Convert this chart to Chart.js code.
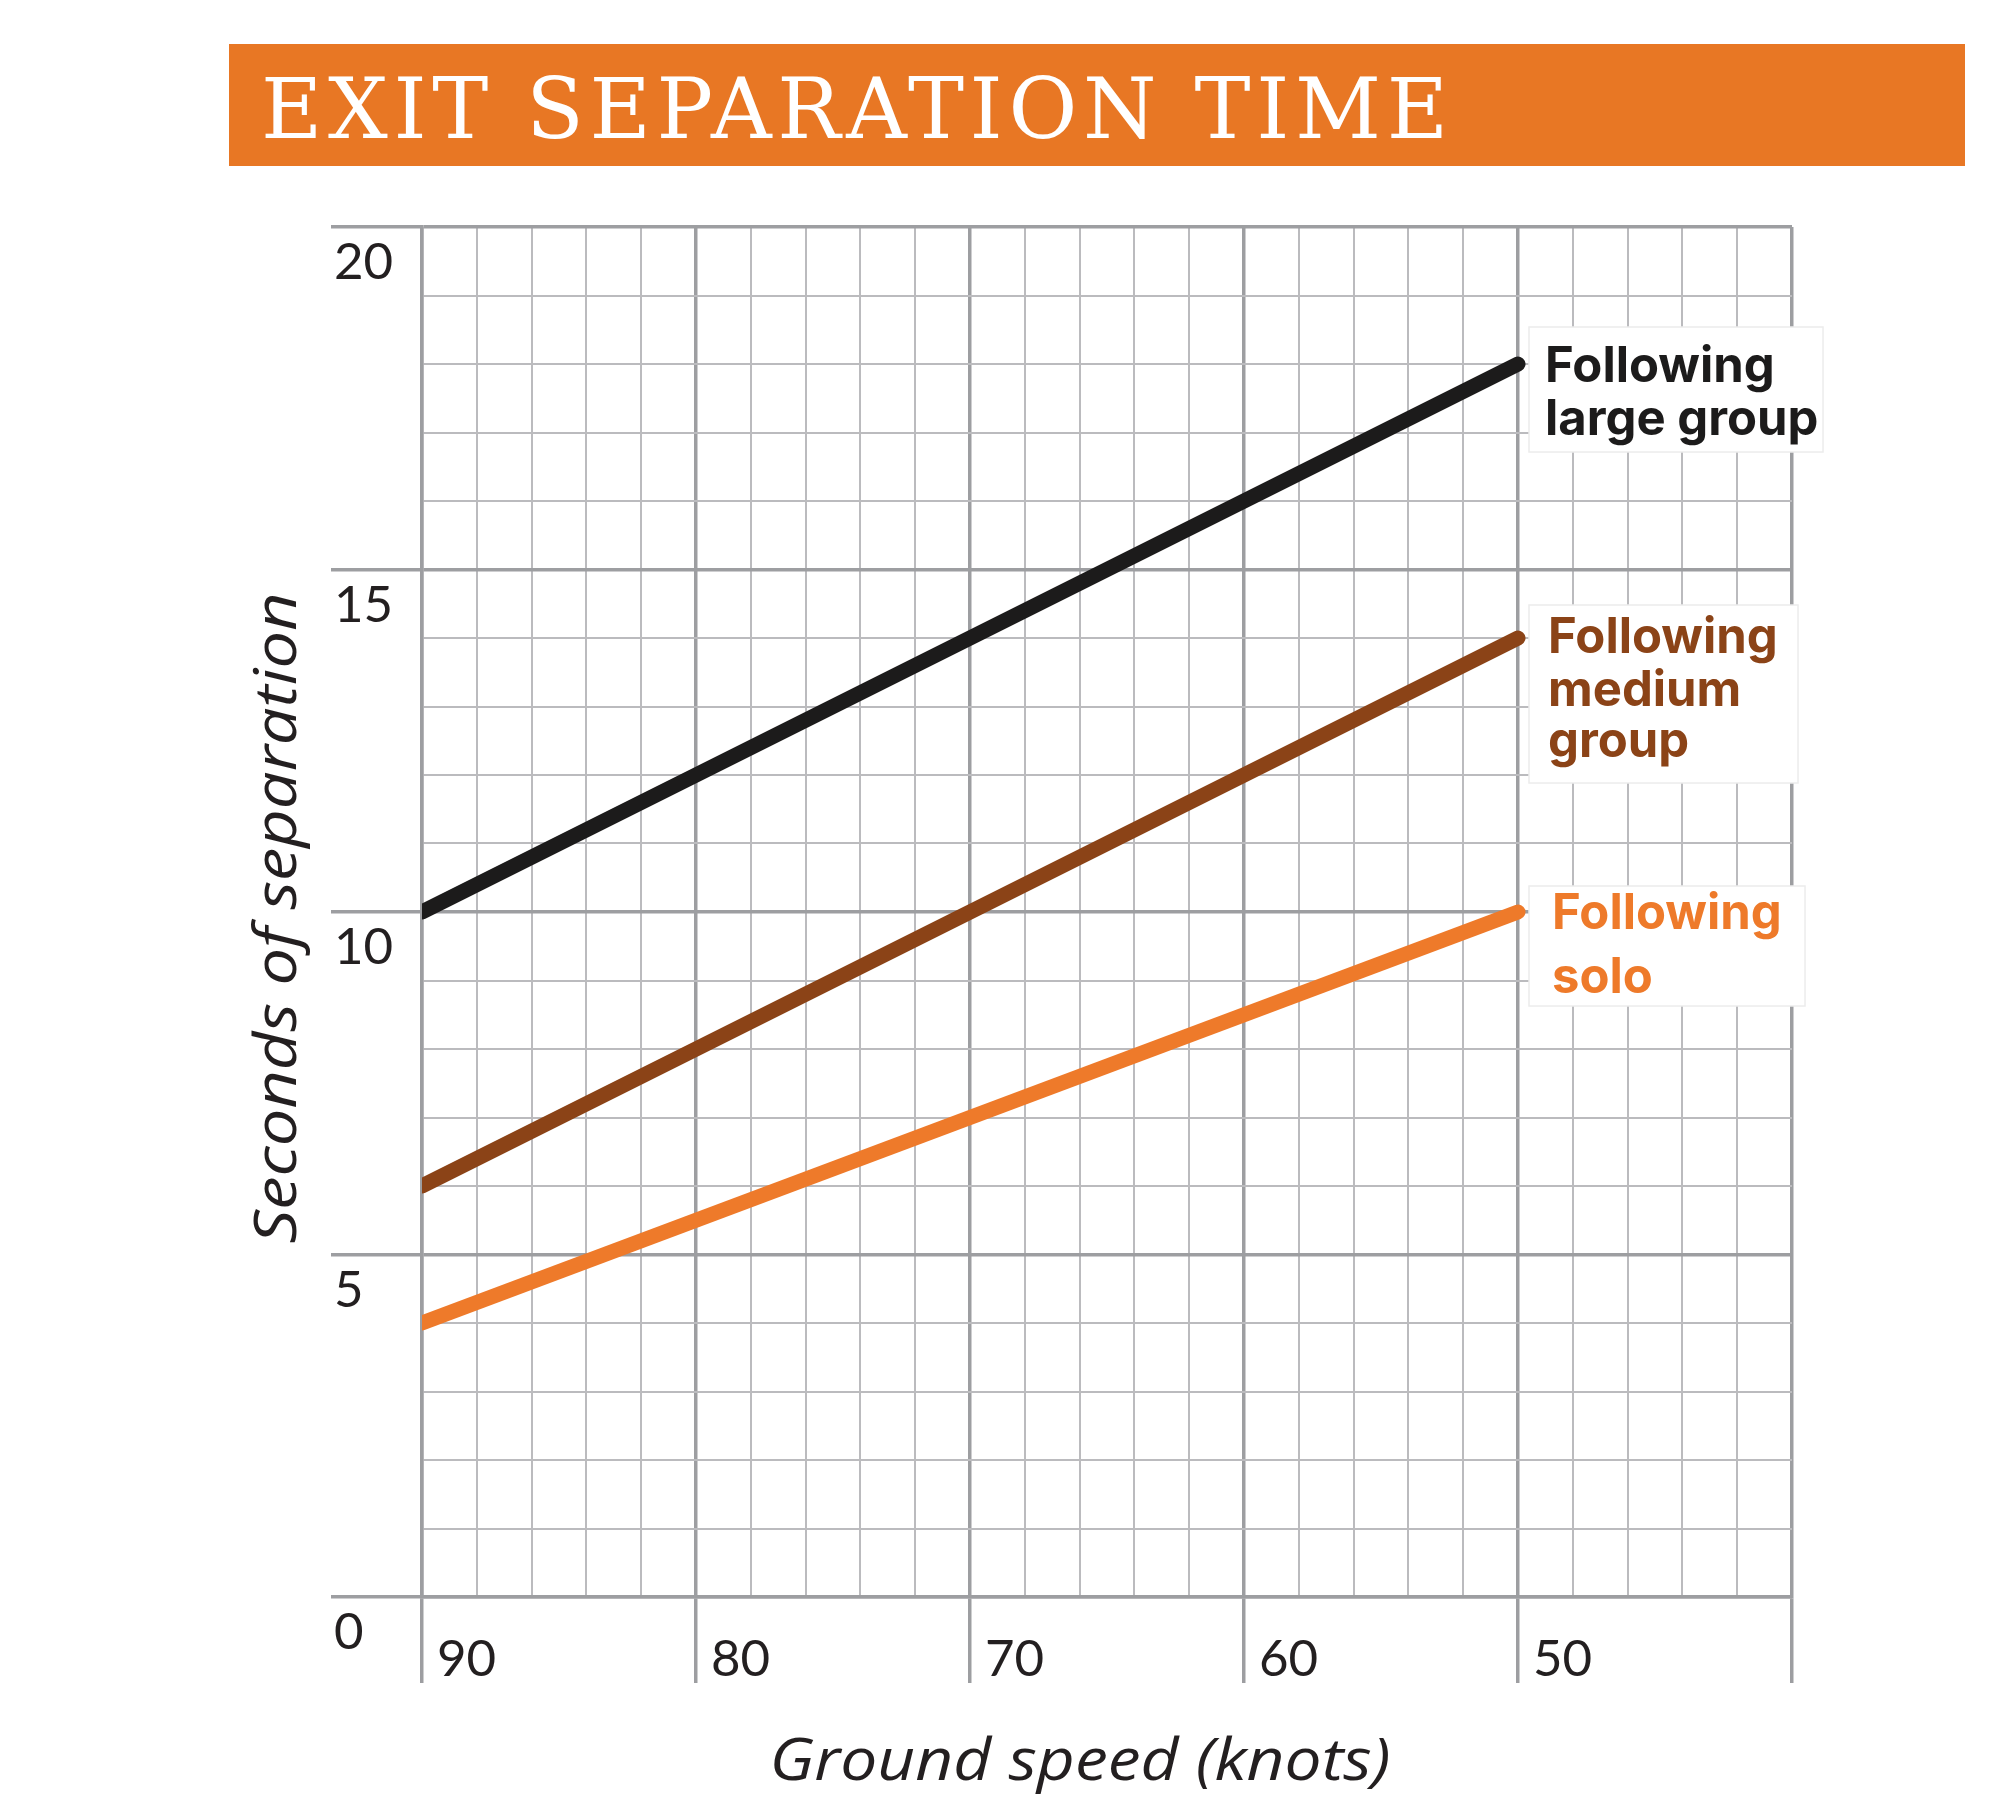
<!DOCTYPE html>
<html>
<head>
<meta charset="utf-8">
<title>Exit separation time</title>
<script src="https://cdn.jsdelivr.net/npm/chart.js@4.4.1/dist/chart.umd.min.js"></script>
<style>
  html, body { margin: 0; padding: 0; background: #ffffff; }
  #wrap { width: 2000px; height: 1810px; }
</style>
</head>
<body>
<div id="wrap"><canvas id="chart" width="2000" height="1810"></canvas></div>
<script>
// ground speed in knots (axis runs from 90 down to 40)
var speeds = [90, 80, 70, 60, 50];
// seconds of separation
var largeGroup = [10, 12, 14, 16, 18];
var mediumGroup = [6, 8, 10, 12, 14];
var solo = [4, 5.5, 7, 8.5, 10];

var seriesLabels = [
  ['Following', 'large group'],
  ['Following', 'medium', 'group'],
  ['Following', 'solo']
];
var seriesColors = ['#1c1b1b', '#8b4317', '#ee7a2a'];

var xTickLabels = [90, 80, 70, 60, 50];
var yTickLabels = [0, 5, 10, 15, 20];

var chartTitle = 'EXIT SEPARATION TIME';
var xTitle = 'Ground speed (knots)';
var yTitle = 'Seconds of separation';

var majorGrid = '#9d9ea1';
var minorGrid = '#bbbbbe';

function toPoints(values) {
  var pts = [];
  for (var i = 0; i < speeds.length; i++) {
    pts.push({ x: speeds[i], y: values[i] });
  }
  return pts;
}

function makeSet(values, idx) {
  return {
    label: seriesLabels[idx].join(' '),
    data: toPoints(values),
    borderColor: seriesColors[idx],
    backgroundColor: seriesColors[idx],
    borderWidth: 15,
    borderCapStyle: 'round',
    borderJoinStyle: 'round',
    pointRadius: 0,
    tension: 0,
    fill: false
  };
}

// white boxes beside each line end: offsets from the end point of the line
var boxes = [
  { dx: 11, top: -37, w: 294, h: 125, textX: 27, lines: [18, 71] },
  { dx: 11, top: -33, w: 269, h: 178, textX: 30, lines: [15, 68, 119] },
  { dx: 11, top: -26, w: 276, h: 120, textX: 34, lines: [17, 81] }
];

// draw text squeezed/stretched so it is exactly `width` wide
function fitText(ctx, text, x, y, width) {
  var w = ctx.measureText(text).width;
  ctx.save();
  ctx.translate(x, y);
  ctx.scale(width / w, 1);
  ctx.fillText(text, 0, 0);
  ctx.restore();
}

var textPlugin = {
  id: 'texts',
  afterDraw: function(chart) {
    var ctx = chart.ctx;
    var xs = chart.scales.x;
    var ys = chart.scales.y;
    ctx.save();

    // title bar
    ctx.fillStyle = '#e87724';
    ctx.fillRect(229, 44, 1736, 122);
    ctx.fillStyle = '#ffffff';
    ctx.font = '84px "DejaVu Serif"';
    ctx.textBaseline = 'alphabetic';
    ctx.textAlign = 'left';
    ctx.letterSpacing = '0px';
    var plain = ctx.measureText(chartTitle).width;
    var spacing = (1187 - plain) / (chartTitle.length - 1);
    ctx.letterSpacing = spacing + 'px';
    ctx.fillText(chartTitle, 261, 138);
    ctx.letterSpacing = '0px';

    // tick labels
    ctx.fillStyle = '#231f20';
    ctx.font = '51px Lato';
    yTickLabels.forEach(function(v) {
      ctx.fillText(String(v), 334, ys.getPixelForValue(v) + 52);
    });
    xTickLabels.forEach(function(v) {
      ctx.fillText(String(v), xs.getPixelForValue(v) + 15, ys.bottom + 79);
    });

    // axis titles
    ctx.font = 'italic 58px "Open Sans"';
    ctx.textAlign = 'center';
    fitText(ctx, xTitle, 1080, 1780, 621);
    ctx.save();
    ctx.translate(296, 918);
    ctx.rotate(-Math.PI / 2);
    fitText(ctx, yTitle, 0, 0, 651);
    ctx.restore();

    // series labels
    ctx.textAlign = 'left';
    ctx.font = 'bold 49px Inter';
    chart.data.datasets.forEach(function(ds, i) {
      var last = ds.data[ds.data.length - 1];
      var ex = xs.getPixelForValue(last.x);
      var ey = ys.getPixelForValue(last.y);
      var b = boxes[i];
      ctx.fillStyle = '#ffffff';
      ctx.fillRect(ex + b.dx, ey + b.top, b.w, b.h);
      ctx.strokeStyle = '#ececec';
      ctx.lineWidth = 1.5;
      ctx.strokeRect(ex + b.dx, ey + b.top, b.w, b.h);
      ctx.fillStyle = seriesColors[i];
      seriesLabels[i].forEach(function(line, j) {
        ctx.fillText(line, ex + b.textX, ey + b.lines[j]);
      });
    });

    ctx.restore();
  }
};

function isMajor(ctx, step) {
  return ctx.tick && Math.abs(ctx.tick.value % step) < 1e-6;
}

var ctx = document.getElementById('chart').getContext('2d');
var chart = new Chart(ctx, {
  type: 'line',
  data: {
    datasets: [
      makeSet(largeGroup, 0),
      makeSet(mediumGroup, 1),
      makeSet(solo, 2)
    ]
  },
  options: {
    responsive: false,
    animation: false,
    devicePixelRatio: 1,
    layout: { padding: { left: 331, right: 208, top: 227, bottom: 127 } },
    plugins: {
      legend: { display: false },
      title: { display: false },
      tooltip: { enabled: false }
    },
    scales: {
      x: {
        type: 'linear',
        position: 'bottom',
        min: 40,
        max: 90,
        reverse: true,
        ticks: { display: false, stepSize: 2 },
        grid: {
          tickLength: 86,
          color: function(c) { return isMajor(c, 10) ? majorGrid : minorGrid; },
          lineWidth: function(c) { return isMajor(c, 10) ? 3.5 : 2; },
          tickColor: function(c) { return isMajor(c, 10) ? majorGrid : 'rgba(0,0,0,0)'; },
          tickWidth: 3.5
        },
        border: { display: true, color: majorGrid, width: 3.5 },
        afterFit: function(scale) { scale.height = 86; }
      },
      y: {
        type: 'linear',
        position: 'left',
        min: 0,
        max: 20,
        ticks: { display: false, stepSize: 1 },
        grid: {
          tickLength: 91,
          color: function(c) { return isMajor(c, 5) ? majorGrid : minorGrid; },
          lineWidth: function(c) { return isMajor(c, 5) ? 3.5 : 2; },
          tickColor: function(c) { return isMajor(c, 5) ? majorGrid : 'rgba(0,0,0,0)'; },
          tickWidth: 3.5
        },
        border: { display: true, color: majorGrid, width: 3.5 },
        afterFit: function(scale) { scale.width = 91; }
      }
    }
  },
  plugins: [textPlugin]
});
</script>
</body>
</html>
